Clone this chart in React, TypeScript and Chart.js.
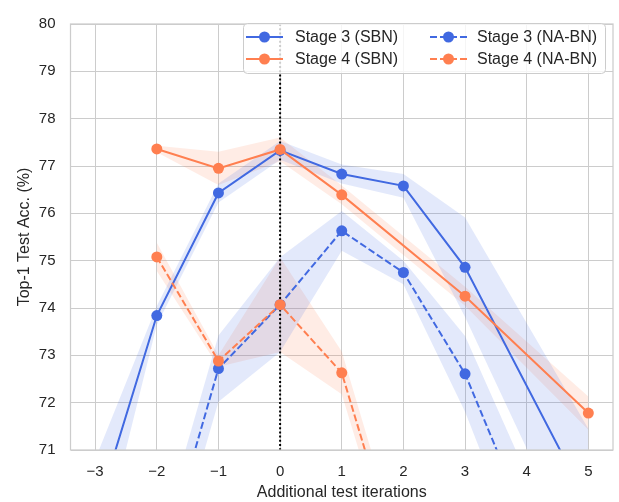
import { useEffect, useRef } from "react";
import { Chart, registerables } from "chart.js";
Chart.register(...registerables);

const xTicks = [-3, -2, -1, 0, 1, 2, 3, 4, 5];
const yTicks = [71, 72, 73, 74, 75, 76, 77, 78, 79, 80];

const s3sbnX = [-3, -2, -1, 0, 1, 2, 3, 5];
const s3sbnY = [69.6, 73.84, 76.43, 77.33, 76.83, 76.58, 74.86, 69.85];
const s3sbnStd = [1.2, 0.2, 0.2, 0.2, 0.2, 0.25, 1.05, 1.6];

const s4sbnX = [-2, -1, 0, 1, 3, 5];
const s4sbnY = [77.36, 76.95, 77.35, 76.39, 74.25, 71.78];
const s4sbnStd = [0.07, 0.35, 0.25, 0.2, 0.2, 0.35];

const s3naX = [-2, -1, 0, 1, 2, 3, 4];
const s3naY = [68.2, 72.72, 74.07, 75.63, 74.75, 72.61, 69.48];
const s3naStd = [0.7, 0.7, 1.0, 0.42, 0.25, 0.8, 1.0];

const s4naX = [-2, -1, 0, 1, 2];
const s4naY = [75.08, 72.88, 74.07, 72.63, 68.3];
const s4naStd = [0.3, 0.12, 1.0, 0.45, 0.4];

const BLUE = "#4169E1";
const ORANGE = "#FF7F50";
const BLUE_FILL = "rgba(65,105,225,0.15)";
const ORANGE_FILL = "rgba(255,127,80,0.15)";
const FONT = "'Liberation Sans', Arial, sans-serif";
const TXT = "#262626";

const legendItems = [
  { label: "Stage 3 (SBN)", color: BLUE, dash: [] as number[] },
  { label: "Stage 4 (SBN)", color: ORANGE, dash: [] as number[] },
  { label: "Stage 3 (NA-BN)", color: BLUE, dash: [7, 3] },
  { label: "Stage 4 (NA-BN)", color: ORANGE, dash: [7, 3] },
];

function pts(xs: number[], ys: number[]) {
  return xs.map((x, i) => ({ x, y: ys[i] }));
}

function series(label: string, xs: number[], ys: number[], std: number[], color: string, fillColor: string, dash: number[], order: number) {
  return [
    {
      label: label + " upper",
      data: pts(xs, ys.map((v, i) => v + std[i])),
      borderWidth: 0,
      borderColor: "transparent",
      pointRadius: 0,
      fill: false,
      order: 10,
    },
    {
      label: label + " lower",
      data: pts(xs, ys.map((v, i) => v - std[i])),
      borderWidth: 0,
      borderColor: "transparent",
      backgroundColor: fillColor,
      pointRadius: 0,
      fill: "-1",
      order: 10,
    },
    {
      label,
      data: pts(xs, ys),
      borderColor: color,
      backgroundColor: color,
      borderWidth: 2,
      borderDash: dash,
      pointRadius: 5.5,
      pointBorderWidth: 0,
      pointBackgroundColor: color,
      fill: false,
      order,
    },
  ];
}

const framePlugin = {
  id: "frameAndVline",
  beforeDatasetsDraw(chart: any) {
    const { ctx, chartArea, scales } = chart;
    const x0 = scales.x.getPixelForValue(0);
    ctx.save();
    ctx.strokeStyle = "#000";
    ctx.lineWidth = 2;
    ctx.setLineDash([2, 2.2]);
    ctx.beginPath();
    ctx.moveTo(x0, chartArea.top);
    ctx.lineTo(x0, chartArea.bottom);
    ctx.stroke();
    ctx.restore();
  },
  afterDraw(chart: any) {
    const { ctx, chartArea } = chart;
    ctx.save();
    ctx.strokeStyle = "#cccccc";
    ctx.lineWidth = 1.25;
    ctx.strokeRect(chartArea.left, chartArea.top, chartArea.right - chartArea.left, chartArea.bottom - chartArea.top);

    // legend
    const lx = 243, ly = 23, lw = 362, lh = 50;
    ctx.fillStyle = "rgba(255,255,255,0.8)";
    ctx.strokeStyle = "#cccccc";
    ctx.lineWidth = 1;
    ctx.beginPath();
    (ctx as any).roundRect(lx + 0.5, ly + 0.5, lw, lh, 4);
    ctx.fill();
    ctx.stroke();
    ctx.font = "16px " + FONT;
    ctx.textBaseline = "middle";
    ctx.fillStyle = TXT;
    const cols = [
      { hx: 246, tx: 295 },
      { hx: 430, tx: 477 },
    ];
    legendItems.forEach((it, i) => {
      const col = cols[Math.floor(i / 2)];
      const y = i % 2 === 0 ? 37 : 59;
      ctx.strokeStyle = it.color;
      ctx.lineWidth = 2;
      ctx.setLineDash(it.dash);
      ctx.beginPath();
      ctx.moveTo(col.hx, y);
      ctx.lineTo(col.hx + 37, y);
      ctx.stroke();
      ctx.setLineDash([]);
      ctx.fillStyle = it.color;
      ctx.beginPath();
      ctx.arc(col.hx + 18.5, y, 5.5, 0, Math.PI * 2);
      ctx.fill();
      ctx.fillStyle = TXT;
      ctx.fillText(it.label, col.tx, y + 1);
    });
    ctx.restore();
  },
};

export default function App() {
  const ref = useRef<HTMLCanvasElement | null>(null);
  useEffect(() => {
    if (!ref.current) return;
    const datasets = [
      ...series("Stage 3 (SBN)", s3sbnX, s3sbnY, s3sbnStd, BLUE, BLUE_FILL, [], 4),
      ...series("Stage 4 (SBN)", s4sbnX, s4sbnY, s4sbnStd, ORANGE, ORANGE_FILL, [], 3),
      ...series("Stage 3 (NA-BN)", s3naX, s3naY, s3naStd, BLUE, BLUE_FILL, [7, 3], 2),
      ...series("Stage 4 (NA-BN)", s4naX, s4naY, s4naStd, ORANGE, ORANGE_FILL, [7, 3], 1),
    ];
    const chart = new Chart(ref.current, {
      type: "line",
      data: { datasets: datasets as any },
      options: {
        animation: false,
        responsive: false,
        devicePixelRatio: 1,
        events: [],
        layout: { padding: { left: 0, right: 6, top: 15.5, bottom: 0 } },
        plugins: {
          legend: { display: false },
          tooltip: { enabled: false },
          filler: { drawTime: "beforeDatasetsDraw" } as any,
        },
        scales: {
          x: {
            type: "linear",
            min: -3.4,
            max: 5.4,
            afterBuildTicks: (scale: any) => {
              scale.ticks = xTicks.map((v) => ({ value: v }));
            },
            afterFit: (scale: any) => {
              scale.height = 52;
            },
            grid: { color: "#cccccc", lineWidth: 1, drawTicks: false },
            border: { display: false },
            ticks: {
              padding: 13,
              color: TXT,
              font: { size: 15, family: FONT },
              callback: (v: any) => String(v).replace("-", "\u2212"),
            },
            title: {
              display: true,
              text: "Additional test iterations",
              color: TXT,
              font: { size: 16, family: FONT },
              padding: { top: 0, bottom: 0 },
            },
          },
          y: {
            type: "linear",
            min: 71,
            max: 80,
            afterBuildTicks: (scale: any) => {
              scale.ticks = yTicks.map((v) => ({ value: v }));
            },
            afterFit: (scale: any) => {
              scale.width = 70.5;
            },
            grid: { color: "#cccccc", lineWidth: 1, drawTicks: false },
            border: { display: false },
            ticks: {
              padding: 15,
              color: TXT,
              font: { size: 15, family: FONT },
            },
            title: {
              display: true,
              text: "Top-1 Test Acc. (%)",
              color: TXT,
              font: { size: 16, family: FONT },
              padding: { top: 15, bottom: 0 },
            },
          },
        },
      },
      plugins: [framePlugin],
    });
    return () => chart.destroy();
  }, []);
  return (
    <div style={{ position: "absolute", left: 0, top: 0 }}>
      <canvas ref={ref} width={619} height={502} style={{ display: "block" }} />
    </div>
  );
}
